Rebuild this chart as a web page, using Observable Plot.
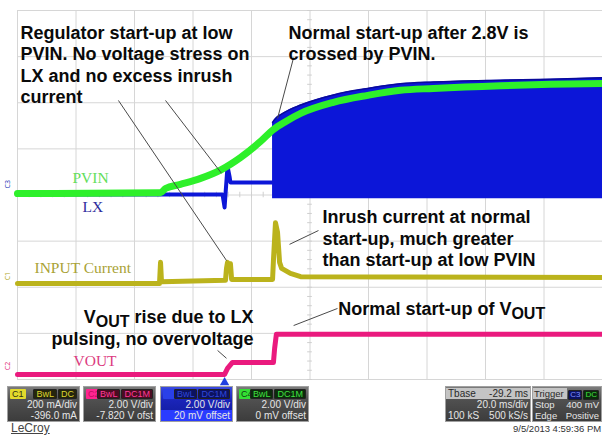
<!DOCTYPE html>
<html><head><meta charset="utf-8">
<script src="https://cdn.jsdelivr.net/npm/d3@7"></script>
<script src="https://cdn.jsdelivr.net/npm/@observablehq/plot@0.6"></script>
<style>
html,body{margin:0;padding:0;background:#fff;}
#wrap{position:relative;width:602px;height:437px;overflow:hidden;font-family:"Liberation Sans",Arial,sans-serif;}
#wrap svg{position:absolute;left:0;top:0;}
.box{position:absolute;top:386px;height:36px;box-sizing:border-box;border:1px solid #a0a0a0;color:#e6e6e6;font-size:10px;line-height:11px;}
.r{position:absolute;left:0;right:0;height:11px;white-space:nowrap;}
.l{position:absolute;left:2px;top:0;}
.rt{position:absolute;right:2px;top:0;}
.chip{display:inline-block;height:10px;line-height:10px;padding:0 2px;margin-left:1px;border-radius:1px;font-size:9px;}
#brand{position:absolute;left:11px;top:421px;font-size:12px;color:#444;text-decoration:underline;}
#stamp{position:absolute;left:513px;top:423px;font-size:9.5px;color:#333;}
</style></head>
<body><div id="wrap"></div>
<script>
// ---- time (ms, relative to trigger) and screen divisions ----
const timePerDiv = 20;
const tLeft = -70.8;           // Tbase -29.2 ms, 10 divisions
const divisions = 8;

// PVIN (green)
const pvinT = [-70.8, -21.9, -20.2, -15.1, -8.2, -1.1, 5.4, 12.3, 16.7, 20.8, 26.0, 37.2, 48.9, 60.1, 71.4, 94.3, 111.4, 129.2];
const pvinV = [0.03, 0.05, 0.14, 0.23, 0.36, 0.55, 0.81, 1.16, 1.42, 1.59, 1.77, 2.01, 2.16, 2.27, 2.31, 2.37, 2.40, 2.42];
// LX (blue) before normal switching
const lxT = [-70.8, -0.7, 0.0, 0.3, 1.0, 1.7, 2.0, 16.4];
const lxV = [0.01, 0.01, -0.27, 0.01, 0.62, 0.40, 0.27, 0.27];
// LX switching envelope
const envT = [16.4, 16.7, 20.8, 26.0, 37.2, 48.9, 60.1, 71.4, 94.3, 111.4, 129.2];
const envTop = [1.57, 1.60, 1.80, 1.95, 2.17, 2.31, 2.41, 2.45, 2.49, 2.51, 2.54];
const envBottom = -0.08;
// INPUT current (olive)
const curT = [-70.8, -22.25, -21.9, -21.57, 0.31, 0.65, 1.0, 1.7, 2.0, 2.4, 16.4, 16.7, 17.4, 18.1, 18.8, 19.5, 22.5, 26.0, 129.2];
const curV = [-1.92, -1.92, -1.46, -1.88, -1.85, -1.59, -1.46, -1.55, -1.49, -1.83, -1.83, -1.42, -0.60, -0.81, -1.46, -1.59, -1.70, -1.77, -1.79];
// VOUT (magenta)
const voutT = [-70.8, 0.0, 1.0, 2.7, 16.7, 17.1, 17.7, 129.2];
const voutV = [-3.89, -3.89, -3.76, -3.63, -3.63, -3.33, -3.02, -3.02];

// trace labels
const traceNames = ["PVIN", "LX", "INPUT Current", "VOUT"];
const traceLabelT = [-52.0, -48.6, -65.0, -51.65];
const traceLabelV = [0.49, -0.14, -1.46, -3.46];
// channel markers on left edge
const markerNames = ["C3", "C1", "C2"];
const markerV = [0.14, -1.85, -3.80];

// annotations
const annText = [
  "Regulator start-up at low\nPVIN. No voltage stress on\nLX and no excess inrush\ncurrent",
  "Normal start-up after 2.8V is\ncrossed by PVIN.",
  "Inrush current at normal\nstart-up, much greater\nthan start-up at low PVIN",
  "V_OUT rise due to LX\npulsing, no overvoltage",
  "Normal start-up of V_OUT"
];
const annT = [-69.8, 21.85, 33.5, 9.9, 38.9];
const annV = [3.725, 3.725, -0.275, -2.45, -2.27];
const annAlign = ["start", "start", "start", "end", "start"];
// leader lines
const leadT1 = [-36.3, -20.2, 23.6, 22.2, 23.6, -2.4];
const leadV1 = [2.05, 2.05, 2.98, -1.07, -2.83, -3.37];
const leadT2 = [0.65, -1.06, 18.1, 32.1, 38.6, 0.65];
const leadV2 = [-1.42, 0.47, 1.66, -0.77, -2.46, -3.54];

// info boxes
const chanIds = ["C1", "C2", "C3", "C4"];
const chanCoupling = [["BwL", "DC"], ["BwL", "DC1M"], ["BwL", "DC1M"], ["BwL", "DC1M"]];
const chanScale = ["200 mA/div", "2.00 V/div", "2.00 V/div", "2.00 V/div"];
const chanOffset = ["-396.0 mA", "-7.820 V ofst", "20 mV offset", "0 mV offset"];
const tbaseRows = [["Tbase", "-29.2 ms"], ["", "20.0 ms/div"], ["100 kS", "500 kS/s"]];
const trigRows = [["Trigger", ""], ["Stop", "400 mV"], ["Edge", "Positive"]];
const trigChips = ["C3", "DC"];
const brand = "LeCroy";
const stamp = "9/5/2013 4:59:36 PM";

// ---- build tables ----
const zip = (T, V) => T.map((t, i) => ({t, v: V[i]}));
const pvin = zip(pvinT, pvinV), lx = zip(lxT, lxV), env = zip(envT, envTop);
const cur = zip(curT, curV), vout = zip(voutT, voutV);
const traceLabels = traceNames.map((n, i) => ({n, t: traceLabelT[i], v: traceLabelV[i]}));
const markers = markerNames.map((n, i) => ({n, v: markerV[i]}));
const anns = annText.map((s, i) => ({s, t: annT[i], v: annV[i], a: annAlign[i]}));
const leads = leadT1.map((t, i) => ({t1: t, v1: leadV1[i], t2: leadT2[i], v2: leadV2[i]}));

const tRight = tLeft + 10 * timePerDiv;
const xGrid = d3.range(11).map(i => tLeft + i * timePerDiv);
const yGrid = d3.range(divisions + 1).map(i => -divisions / 2 + i);
const tCenter = tLeft + 5 * timePerDiv;
const xMinor = d3.range(51).map(i => tLeft + i * timePerDiv / 5);
const yMinor = d3.range(41).map(i => -4 + i * 0.2);

const GREEN = "#2ef02a", BLUE = "#0c16d8", OLIVE = "#bbb31c", MAG = "#ea1a7e";
const labelColors = ["#62de5a", "#2c2c9c", "#a9a236", "#dc3a80"];
const markerColors = ["#2c3cb8", "#b0a828", "#e0307e"];
const annStyle = {x: "t", y: "v", text: "s", lineAnchor: "top", fontSize: 18, fontWeight: "bold", fill: "#0a0a0a", fontFamily: "Liberation Sans, Arial, sans-serif"};

const plot = Plot.plot({
  width: 602, height: 437,
  marginLeft: 17, marginRight: 0, marginTop: 10, marginBottom: 58,
  x: {domain: [tLeft, tRight], axis: null},
  y: {domain: [-4, 4], axis: null},
  style: {background: "white", overflow: "visible"},
  marks: [
    Plot.ruleX(xGrid, {stroke: "#d6d6d6", strokeWidth: 1}),
    Plot.ruleY(yGrid, {stroke: "#d6d6d6", strokeWidth: 1}),
    Plot.ruleX(xMinor, {y1: -0.06, y2: 0.06, stroke: "#cfcfcf"}),
    Plot.ruleY(yMinor, {x1: tCenter - 0.8, x2: tCenter + 0.8, stroke: "#cfcfcf"}),
    Plot.areaY(env, {x: "t", y1: envBottom, y2: "v", fill: BLUE, curve: "monotone-x"}),
    Plot.line(env, {x: "t", y: "v", stroke: "#0a0a9a", strokeWidth: 1.5, curve: "monotone-x"}),
    Plot.line(lx, {x: "t", y: "v", stroke: BLUE, strokeWidth: 4}),
    Plot.line(pvin, {x: "t", y: "v", stroke: GREEN, strokeWidth: 7, curve: "monotone-x"}),
    Plot.line(cur, {x: "t", y: "v", stroke: OLIVE, strokeWidth: 5}),
    Plot.line(vout, {x: "t", y: "v", stroke: MAG, strokeWidth: 5}),
    Plot.text(traceLabels, {x: "t", y: "v", text: "n", fill: (d, i) => labelColors[i], lineAnchor: "top", textAnchor: "start", fontSize: 15.5, fontFamily: "Liberation Serif, Times New Roman, serif"}),
    Plot.text(markers, {frameAnchor: "left", y: "v", text: "n", fill: (d, i) => markerColors[i], rotate: -90, dx: -10, fontSize: 7}),
    Plot.link(leads, {x1: "t1", y1: "v1", x2: "t2", y2: "v2", stroke: "#4a4a4a", strokeWidth: 1}),
    Plot.text(anns, {...annStyle, filter: d => d.a === "start", textAnchor: "start", lineHeight: 1.2}),
    Plot.text(anns, {...annStyle, filter: d => d.a === "end", textAnchor: "end", lineHeight: 1.2}),
    Plot.dot([0], {x: d => d, frameAnchor: "bottom", symbol: "triangle", r: 3.5, fill: "#2040e0", dy: 3})
  ]
});

// subscripts for V_OUT
const NS = "http://www.w3.org/2000/svg";
d3.select(plot).selectAll("text, tspan").each(function () {
  const el = this;
  if (el.childNodes.length !== 1 || el.firstChild.nodeType !== 3) return;
  const s = el.textContent;
  if (!s.includes("_OUT")) return;
  const [a, b] = s.split("_OUT");
  el.textContent = "";
  el.appendChild(document.createTextNode(a));
  const sub = document.createElementNS(NS, "tspan");
  sub.setAttribute("dy", "4"); sub.setAttribute("font-size", "16");
  sub.textContent = "OUT";
  el.appendChild(sub);
  if (b) { const r = document.createElementNS(NS, "tspan"); r.setAttribute("dy", "-4"); r.textContent = b; el.appendChild(r); }
});
const wrap = document.getElementById("wrap");
wrap.appendChild(plot);

// ---- instrument info boxes (HTML) ----
const chipBg = ["#e2da2c", "#ff2490", "#2a40e8", "#34e034"];
const chipFg = ["#303010", "#c01060", "#2a40e8", "#104010"];
const flagBg = ["#25250c", "#4a0c22", "#0c1260", "#0c2a0c"];
const flagFg = ["#ddd530", "#ff3a98", "#3048d8", "#40e040"];
const boxLeft = [7, 83, 160, 236];
const boxW = 73;
const grey = "linear-gradient(#7c7c7c,#505050 38%,#3c3c3c)";
const blue = "linear-gradient(#3a4ae0,#1a24b8 40%,#101a98)";

function addBox(left, width, bg) {
  const b = document.createElement("div");
  b.className = "box"; b.style.left = left + "px"; b.style.width = width + "px"; b.style.background = bg;
  wrap.appendChild(b); return b;
}
function addRow(box, i, l, r, bg, color) {
  const row = document.createElement("div");
  row.className = "r"; row.style.top = (i * 11.3 + 0.5) + "px";
  if (bg) row.style.background = bg;
  if (color) row.style.color = color;
  if (l !== null) { const s = document.createElement("span"); s.className = "l"; s.innerHTML = l; row.appendChild(s); }
  if (r !== null) { const s = document.createElement("span"); s.className = "rt"; s.innerHTML = r; row.appendChild(s); }
  box.appendChild(row); return row;
}
chanIds.forEach((id, i) => {
  const box = addBox(boxLeft[i], boxW, i === 2 ? blue : grey);
  const chip = `<span class="chip" style="margin-left:0;background:${chipBg[i]};color:${chipFg[i]}">${id}</span>`;
  const flags = chanCoupling[i].map(f => `<span class="chip" style="background:${flagBg[i]};color:${flagFg[i]};border:1px solid #222;line-height:8px;height:8px">${f}</span>`).join("");
  addRow(box, 0, chip, flags);
  addRow(box, 1, null, chanScale[i]);
  addRow(box, 2, null, chanOffset[i], i === 2 ? "#2a3cff" : null);
});
const tb = addBox(445, 86, grey);
addRow(tb, 0, tbaseRows[0][0], tbaseRows[0][1], "#c4c4c4", "#2a2a2a");
addRow(tb, 1, tbaseRows[1][0], tbaseRows[1][1]);
addRow(tb, 2, tbaseRows[2][0], tbaseRows[2][1]);
const tr = addBox(532, 70, grey);
tr.style.fontSize = "9.5px";
const tchips = trigChips.map((c, i) => `<span class="chip" style="font-size:8px;padding:0 1px;background:${i ? "#0c2a0c" : "#0c1260"};color:${i ? "#40e040" : "#8090ff"};border:1px solid #222;line-height:8px;height:8px">${c}</span>`).join("");
addRow(tr, 0, `<span style="background:#c4c4c4;color:#2a2a2a;padding:0 3px 0 1px;margin-left:-2px">${trigRows[0][0]}</span>`, tchips);
addRow(tr, 1, trigRows[1][0], trigRows[1][1]);
addRow(tr, 2, trigRows[2][0], trigRows[2][1]);

const br = document.createElement("div"); br.id = "brand"; br.textContent = brand; wrap.appendChild(br);
const st = document.createElement("div"); st.id = "stamp"; st.textContent = stamp; wrap.appendChild(st);
</script>
</body></html>
